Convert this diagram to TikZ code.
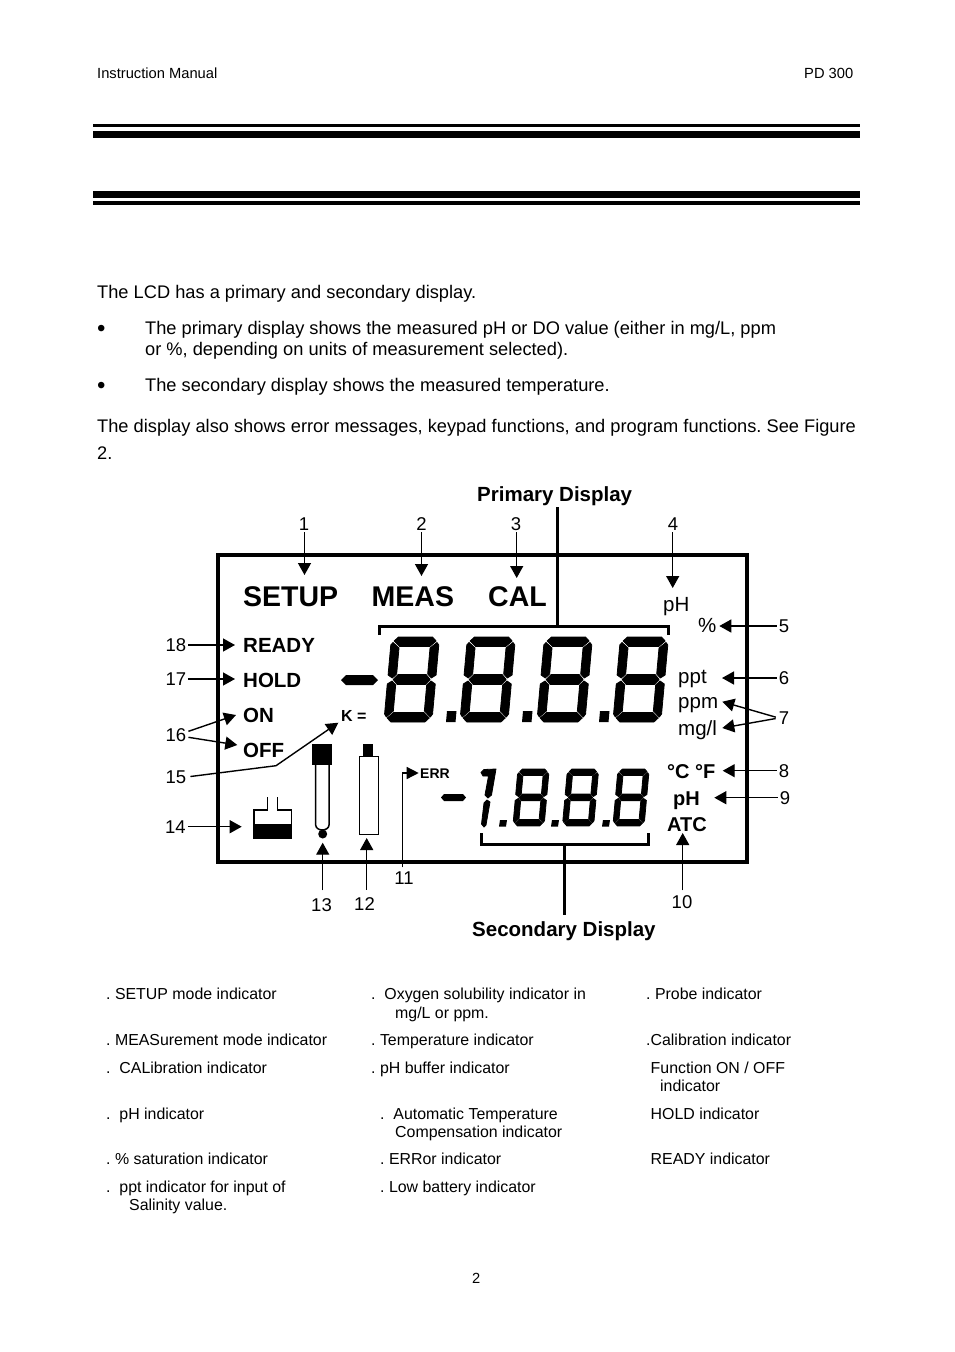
\documentclass[tikz,border=0pt]{standalone}
\usepackage{fontspec}
\setmainfont{Liberation Sans}
\usetikzlibrary{arrows.meta,calc}
\frenchspacing
\newcommand{\fs}[1]{\fontsize{#1}{#1}\selectfont}
\tikzset{
  lab/.style={inner sep=0pt,anchor=base west},
  head/.style={lab,font=\fs{14.7}},
  body/.style={lab,font=\fs{18.25}},
  tab/.style={lab,font=\fs{15.9},yshift=-1pt},
  num/.style={inner sep=0pt,font=\fs{18.5}},
  lcdbig/.style={lab,font=\fs{28.5}\bfseries},
  lcdmid/.style={lab,font=\fs{20.5}\bfseries},
  lcdunit/.style={lab,font=\fs{20}\bfseries},
  lcdthin/.style={lab,font=\fs{20.5}},
  lcdsmall/.style={lab,font=\fs{14}\bfseries},
  title/.style={lab,font=\fs{20.5}\bfseries},
  arr/.style={line width=1.4pt,shorten <=2pt,-{Triangle[length=12pt,width=13pt]}},
  frame/.style={line width=4pt,line cap=rect},
  brk/.style={line width=3pt},
  icon/.style={line width=1.5pt},
  rulebar/.style={fill=black,draw=none},
  seg/.style={fill=black,draw=black,line width=.8pt,line join=round}
}
\newcommand{\lcdpoly}{%
  \path[seg] (7,0)--(41,0)--(45,4)--(39,9.5)--(9,9.5)--(3,4)--cycle;
  \path[seg] (46,5.5)--(48,8)--(48,38)--(43.5,41)--(39.5,37)--(39.5,11)--cycle;
  \path[seg] (2,5.5)--(0,8)--(0,38)--(4.5,41)--(8.5,37)--(8.5,11)--cycle;
  \path[seg] (10,37.5)--(38,37.5)--(42.5,42.5)--(38,47.5)--(10,47.5)--(5.5,42.5)--cycle;
  \path[seg] (0,47)--(4.5,44)--(8.5,48)--(8.5,74)--(2,80)--(0,77)--cycle;
  \path[seg] (48,47)--(43.5,44)--(39.5,48)--(39.5,74)--(46,80)--(48,77)--cycle;
  \path[seg] (3,81)--(9,75.5)--(39,75.5)--(45,81)--(41,85)--(7,85)--cycle;
}
\newcommand{\lcddigit}[4]{\begin{scope}[shift={(#1,#2)},xslant=.09,xscale=#3,yscale=#4]\lcdpoly\end{scope}}
\newcommand{\lcddot}[4]{\fill (#1,#2)--(#1+#3,#2)--(#1+#3-1,#2+#4)--(#1-1,#2+#4)--cycle;}
\begin{document}
\begin{tikzpicture}[x=1pt,y=-1pt]
\useasboundingbox (0,0) rectangle (954,1352);
\fill[white] (0,0) rectangle (954,1352);
% header
\node[head] (hl) at (97,78) {Instruction Manual};
\node[head] (hr) at (804,78) {PD 300};
\fill[rulebar] (93,124) rectangle (860,127.3);
\fill[rulebar] (93,131) rectangle (860,138);
\fill[rulebar] (93,191) rectangle (860,198);
\fill[rulebar] (93,201) rectangle (860,205.3);
% body
\node[body] (b1) at (97,298) {The LCD has a primary and secondary display.};
\node[body,font=\fs{24}] (b2) at (97,336) {•};
\node[body] (b3) at (145,334) {The primary display shows the measured pH or DO value (either in mg/L, ppm};
\node[body] (b4) at (145,355) {or \%, depending on units of measurement selected).};
\node[body,font=\fs{24}] (b5) at (97,393) {•};
\node[body] (b6) at (145,391) {The secondary display shows the measured temperature.};
\node[body] (b7) at (97,432) {The display also shows error messages, keypad functions, and program functions. See Figure};
\node[body] (b8) at (97,459) {2.};
% display frame
\draw[frame] (217.5,555) rectangle (746.5,862);
% titles
\node[title] (prim) at (477,501) {Primary Display};
\node[title] (sec) at (472,936) {Secondary Display};
% brackets
\coordinate (pbr) at (557.5,626);
\coordinate (sbr) at (564.5,844.5);
\draw[brk] (379.5,635) -- (379.5,626) -- (668.5,626) -- (668.5,635);
\draw[brk] (481.5,833) -- (481.5,844.5) -- (648.5,844.5) -- (648.5,833);
\draw[brk,shorten >=2pt] (pbr) -- (pbr |- prim.south);
\draw[brk,shorten >=6pt] (sbr) -- (sbr |- sec.north);
% LCD words
\node[lcdbig] (setup) at (243,606) {SETUP};
\node[lcdbig] (meas) at (371.5,606) {MEAS};
\node[lcdbig] (cal) at (488,606) {CAL};
\node[lcdmid] (ready) at (243,652) {READY};
\node[lcdmid] (hold) at (243,687) {HOLD};
\node[lcdmid] (on) at (243,722) {ON};
\node[lcdmid] (off) at (243,757) {OFF};
\node[lcdsmall,font=\fs{16}\bfseries] (k) at (341,721) {K =};
\node[lcdsmall] (err) at (420,778) {ERR};
\node[lcdthin] (ph) at (663,611) {pH};
\node[lcdthin] (pct) at (698,632.5) {\%};
\node[lcdthin] (ppt) at (678,683) {ppt};
\node[lcdthin] (ppm) at (678,708) {ppm};
\node[lcdthin] (mgl) at (678,735) {mg/l};
\node[lcdunit] (deg) at (667,778) {°C °F};
\node[lcdunit] (phb) at (673,805) {pH};
\node[lcdunit] (atc) at (667,831) {ATC};
% primary digits
\fill (341,680)--(346,675)--(373,675)--(378,680)--(373,685)--(346,685)--cycle;
\lcddigit{391.5}{637}{1}{1}
\lcddigit{467.5}{637}{1}{1}
\lcddigit{544.5}{637}{1}{1}
\lcddigit{620.5}{637}{1}{1}
\lcddot{447}{711}{9.5}{11}
\lcddot{523}{711}{9.5}{11}
\lcddot{600}{711}{9.5}{11}
% secondary digits
\fill (441,797.5)--(444,794)--(463,794)--(466,797.5)--(463,801)--(444,801)--cycle;
\path[seg] (481,772.5)--(484,769.5)--(496,769)--(491.5,795)--(488,798)--(485,795)--(488.5,776)--(483,776)--cycle;
\path[seg] (487,800)--(490,802)--(486,825)--(484,827)--(481.5,824)--(484,803)--cycle;
\lcddigit{518}{769}{.65}{.67}
\lcddigit{567.5}{769}{.65}{.67}
\lcddigit{618}{769}{.65}{.67}
\lcddot{500}{820}{7}{6.5}
\lcddot{552}{820}{7}{6.5}
\lcddot{603}{820}{7}{6.5}
% battery
\draw[icon] (267.3,797) -- (267.3,810) -- (254,810) -- (254,838) -- (291.3,838) -- (291.3,810) -- (277.3,810) -- (277.3,797);
\fill (254,824) rectangle (291.3,838);
% probe
\fill (311.7,744.3) rectangle (332.3,765);
\draw[icon] (315.7,765) -- (315.7,825) arc[start angle=180,end angle=0,x radius=6.65,y radius=5] -- (329,765);
\fill (322.7,834) circle[radius=4.5];
% sensor
\fill (363.3,744.3) rectangle (373.3,757);
\draw[icon] (359.3,756.7) rectangle (378.3,834.3);
% number labels
\node[num] (n1) at (304,524.5) {1};
\node[num] (n2) at (421.5,524.5) {2};
\node[num] (n3) at (516,524.5) {3};
\node[num] (n4) at (673,524.5) {4};
\node[num] (n5) at (784,626.5) {5};
\node[num] (n6) at (784,678) {6};
\node[num] (n7) at (784,718) {7};
\node[num] (n8) at (784,771) {8};
\node[num] (n9) at (785,798) {9};
\node[num] (n10) at (682,902) {10};
\node[num] (n11) at (404,878) {11};
\node[num] (n12) at (364.5,904.5) {12};
\node[num] (n13) at (321.5,905) {13};
\node[num] (n14) at (175.5,827) {14};
\node[num] (n15) at (176,777) {15};
\node[num] (n16) at (176,735) {16};
\node[num] (n17) at (176,679) {17};
\node[num] (n18) at (176,645) {18};
% arrow tips
\coordinate (t1) at (304.5,575);
\coordinate (t2) at (421.5,576);
\coordinate (t3) at (516.7,578);
\coordinate (t4) at (672.7,588);
\coordinate (t5) at (719.3,626);
\coordinate (t6) at (722,678);
\coordinate (t7a) at (722.3,701.7);
\coordinate (t7b) at (722.3,728);
\coordinate (t8) at (722.7,770.7);
\coordinate (t9) at (714.3,797.7);
\coordinate (t10) at (682.7,833);
\coordinate (t11) at (418.7,773);
\coordinate (b11) at (402.7,773);
\coordinate (t12) at (366.7,838);
\coordinate (t13) at (322.7,842.7);
\coordinate (t14) at (241.7,826.7);
\coordinate (t15) at (338.3,722.7);
\coordinate (b15) at (276,765.7);
\coordinate (t16a) at (236,715);
\coordinate (t16b) at (237.3,745);
\coordinate (t17) at (235,679);
\coordinate (t18) at (235,645);
% connectors
\draw[arr,shorten <=1pt] (n1.south -| t1) -- (t1);
\draw[arr,shorten <=1pt] (n2.south -| t2) -- (t2);
\draw[arr,shorten <=1pt] (n3.south -| t3) -- (t3);
\draw[arr,shorten <=1pt] (n4.south -| t4) -- (t4);
\draw[arr] (n5.west |- t5) -- (t5);
\draw[arr] (n6.west |- t6) -- (t6);
\draw[arr,shorten <=3pt] (n7.west) -- (t7a);
\draw[arr,shorten <=3pt] (n7.west) -- (t7b);
\draw[arr] (n8.west |- t8) -- (t8);
\draw[arr] (n9.west |- t9) -- (t9);
\draw[arr,shorten <=5pt] (n10.north -| t10) -- (t10);
\draw[line width=1.4pt,shorten <=4pt,-{Triangle[length=12pt,width=12pt]}] (n11.north -| b11) -- (b11) -- (t11);
\draw[arr,shorten <=8pt] (n12.north -| t12) -- (t12);
\draw[arr,shorten <=8pt] (n13.north -| t13) -- (t13);
\draw[arr] (n14.east |- t14) -- (t14);
\draw[arr,shorten <=4pt] (n15.east) -- (b15) -- (t15);
\draw[arr] ($(n16.east)+(0,-3)$) -- (t16a);
\draw[arr] ($(n16.east)+(0,2)$) -- (t16b);
\draw[arr] (n17.east |- t17) -- (t17);
\draw[arr] (n18.east |- t18) -- (t18);
% legend
\node[tab] (c11) at (106,998) {. SETUP mode indicator};
\node[tab] (c12) at (106,1044) {. MEASurement mode indicator};
\node[tab] (c13) at (106,1072) {.~~CALibration indicator};
\node[tab] (c14) at (106,1118) {.~~pH indicator};
\node[tab] (c15) at (106,1163.5) {. \% saturation indicator};
\node[tab] (c16) at (106,1191) {.~~ppt indicator for input of};
\node[tab] (c17) at (129,1209) {Salinity value.};
\node[tab] (c21) at (371,998) {.~~Oxygen solubility indicator in};
\node[tab] (c22) at (395,1017) {mg/L or ppm.};
\node[tab] (c23) at (371,1044) {. Temperature indicator};
\node[tab] (c24) at (371,1072) {. pH buffer indicator};
\node[tab] (c25) at (380,1118) {.~~Automatic Temperature};
\node[tab] (c26) at (395,1136) {Compensation indicator};
\node[tab] (c27) at (380,1163.5) {. ERRor indicator};
\node[tab] (c28) at (380,1191) {. Low battery indicator};
\node[tab] (c31) at (646,998) {. Probe indicator};
\node[tab] (c32) at (646,1044) {.Calibration indicator};
\node[tab] (c33) at (650.5,1072) {Function ON / OFF};
\node[tab] (c34) at (660,1090) {indicator};
\node[tab] (c35) at (650.5,1118) {HOLD indicator};
\node[tab] (c36) at (650.5,1163.5) {READY indicator};
\node[head] (pg) at (472,1283) {2};
\end{tikzpicture}
\end{document}
